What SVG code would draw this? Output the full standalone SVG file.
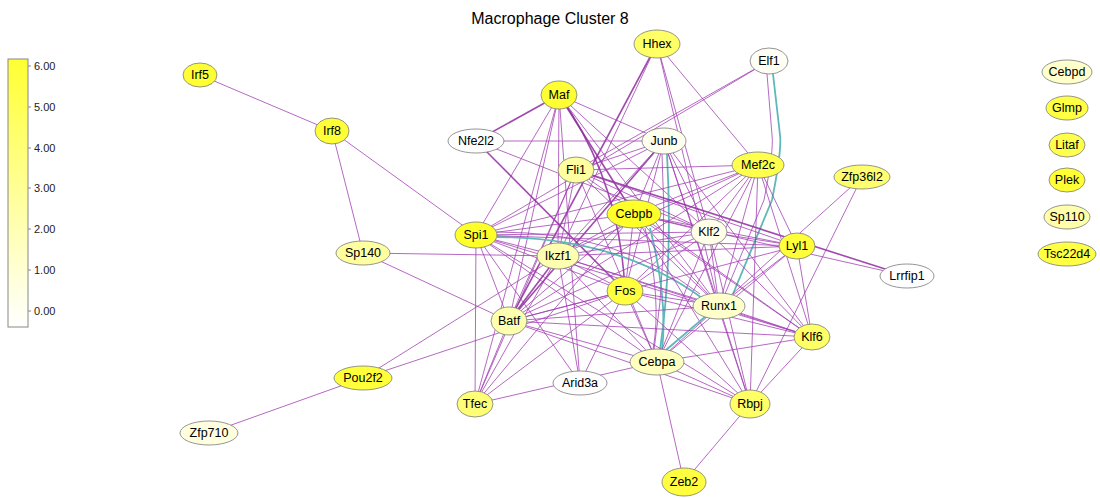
<svg xmlns="http://www.w3.org/2000/svg" width="1100" height="498" viewBox="0 0 1100 498">
<style>
.e{stroke:#a23db2;stroke-opacity:0.78;stroke-width:1;fill:none}
.t{stroke:#8e2c9e;stroke-opacity:0.85;stroke-width:1.6;fill:none}
.c{stroke:#5fb8b8;stroke-width:1.8;fill:none}
.n ellipse{stroke:#7a7a7a;stroke-width:0.8}
.n text{font-family:"Liberation Sans",Arial,sans-serif;font-size:12.5px;text-anchor:middle;dominant-baseline:central;fill:#000}
.lab{font-family:"Liberation Sans",Arial,sans-serif;font-size:11px;fill:#222}
</style>
<defs>
<linearGradient id="cb" x1="0" y1="0" x2="0" y2="1">
<stop offset="0" stop-color="#ffff33"/>
<stop offset="1" stop-color="#ffffff"/>
</linearGradient>
</defs>
<rect width="1100" height="498" fill="#fff"/>
<text x="550" y="24" font-family="Liberation Sans,Arial,sans-serif" font-size="16" text-anchor="middle" fill="#000">Macrophage Cluster 8</text>
<g id="colorbar">
<rect x="8" y="59" width="20" height="268" fill="url(#cb)" stroke="#888" stroke-width="1"/>
<g stroke="#888" stroke-width="1">
<line x1="28" y1="66" x2="31" y2="66"/><line x1="28" y1="107" x2="31" y2="107"/><line x1="28" y1="148" x2="31" y2="148"/><line x1="28" y1="188" x2="31" y2="188"/><line x1="28" y1="229" x2="31" y2="229"/><line x1="28" y1="270" x2="31" y2="270"/><line x1="28" y1="311" x2="31" y2="311"/>
</g>
<text class="lab" x="34" y="70">6.00</text>
<text class="lab" x="34" y="111">5.00</text>
<text class="lab" x="34" y="152">4.00</text>
<text class="lab" x="34" y="192">3.00</text>
<text class="lab" x="34" y="233">2.00</text>
<text class="lab" x="34" y="274">1.00</text>
<text class="lab" x="34" y="315">0.00</text>
</g>
<g id="connectors">
<line class="e" x1="200" y1="75" x2="332" y2="131"/>
<line class="e" x1="332" y1="131" x2="363" y2="253"/>
<line class="e" x1="332" y1="131" x2="476" y2="235"/>
<line class="e" x1="363" y1="253" x2="558" y2="256"/>
<line class="e" x1="363" y1="253" x2="509" y2="321"/>
<line class="e" x1="363" y1="378" x2="209" y2="433"/>
<line class="e" x1="363" y1="378" x2="558" y2="256"/>
<line class="e" x1="363" y1="378" x2="625" y2="291"/>
<line class="t" x1="657" y1="44" x2="509" y2="321"/>
<line class="e" x1="657" y1="44" x2="558" y2="256"/>
<line class="e" x1="657" y1="44" x2="709" y2="232"/>
<line class="e" x1="657" y1="44" x2="758" y2="165"/>
<line class="e" x1="657" y1="44" x2="719" y2="306"/>
<line class="e" x1="769" y1="61" x2="476" y2="235"/>
<line class="e" x1="769" y1="61" x2="576" y2="170"/>
<path class="e" d="M767 74 L772 135 Q774 150 764 200 L725 294"/>
<path class="c" d="M773 74 L780 135 Q782 150 772 200 L733 294"/>
<line class="t" x1="559" y1="95" x2="476" y2="141"/>
<line class="e" x1="559" y1="95" x2="664" y2="141"/>
<line class="e" x1="559" y1="95" x2="709" y2="232"/>
<line class="t" x1="559" y1="95" x2="634" y2="214"/>
<path class="t" d="M559 95 Q620 180 625 291"/>
<line class="e" x1="559" y1="95" x2="476" y2="235"/>
<line class="e" x1="559" y1="95" x2="509" y2="321"/>
<line class="e" x1="559" y1="95" x2="475" y2="404"/>
<line class="e" x1="559" y1="95" x2="558" y2="256"/>
<line class="e" x1="559" y1="95" x2="719" y2="306"/>
<line class="e" x1="559" y1="95" x2="580" y2="383"/>
<line class="e" x1="476" y1="141" x2="664" y2="141"/>
<line class="t" x1="476" y1="141" x2="625" y2="291"/>
<line class="e" x1="476" y1="141" x2="709" y2="232"/>
<line class="e" x1="664" y1="141" x2="576" y2="170"/>
<line class="e" x1="664" y1="141" x2="476" y2="235"/>
<line class="e" x1="664" y1="141" x2="558" y2="256"/>
<line class="t" x1="664" y1="141" x2="509" y2="321"/>
<line class="e" x1="664" y1="141" x2="634" y2="214"/>
<line class="e" x1="664" y1="141" x2="625" y2="291"/>
<path class="e" d="M662 154 Q668 260 654 350"/>
<path class="c" d="M667 154 Q673 260 660 350"/>
<line class="e" x1="664" y1="141" x2="709" y2="232"/>
<line class="e" x1="664" y1="141" x2="719" y2="306"/>
<line class="e" x1="664" y1="141" x2="750" y2="404"/>
<line class="e" x1="664" y1="141" x2="812" y2="337"/>
<line class="e" x1="576" y1="170" x2="758" y2="165"/>
<line class="t" x1="576" y1="170" x2="907" y2="276"/>
<line class="e" x1="576" y1="170" x2="797" y2="246"/>
<line class="e" x1="576" y1="170" x2="709" y2="232"/>
<line class="e" x1="576" y1="170" x2="812" y2="337"/>
<line class="e" x1="576" y1="170" x2="509" y2="321"/>
<line class="e" x1="576" y1="170" x2="475" y2="404"/>
<line class="e" x1="576" y1="170" x2="558" y2="256"/>
<line class="e" x1="576" y1="170" x2="719" y2="306"/>
<line class="e" x1="576" y1="170" x2="657" y2="362"/>
<line class="e" x1="758" y1="165" x2="709" y2="232"/>
<line class="e" x1="758" y1="165" x2="634" y2="214"/>
<line class="e" x1="758" y1="165" x2="625" y2="291"/>
<line class="e" x1="758" y1="165" x2="719" y2="306"/>
<line class="e" x1="758" y1="165" x2="812" y2="337"/>
<line class="e" x1="758" y1="165" x2="750" y2="404"/>
<line class="e" x1="758" y1="165" x2="797" y2="246"/>
<line class="e" x1="758" y1="165" x2="657" y2="362"/>
<line class="e" x1="758" y1="165" x2="476" y2="235"/>
<line class="e" x1="758" y1="165" x2="558" y2="256"/>
<line class="e" x1="758" y1="165" x2="509" y2="321"/>
<line class="e" x1="862" y1="177" x2="719" y2="306"/>
<line class="e" x1="862" y1="177" x2="750" y2="404"/>
<line class="e" x1="634" y1="214" x2="907" y2="276"/>
<line class="e" x1="476" y1="235" x2="634" y2="214"/>
<line class="e" x1="476" y1="235" x2="558" y2="256"/>
<line class="e" x1="476" y1="235" x2="625" y2="291"/>
<path class="e" d="M497 232 Q620 232 700 294"/>
<path class="c" d="M497 237 Q620 238 702 298"/>
<line class="e" x1="476" y1="235" x2="709" y2="232"/>
<line class="e" x1="476" y1="235" x2="797" y2="246"/>
<line class="e" x1="476" y1="235" x2="509" y2="321"/>
<line class="e" x1="476" y1="235" x2="475" y2="404"/>
<line class="e" x1="476" y1="235" x2="657" y2="362"/>
<line class="e" x1="476" y1="235" x2="580" y2="383"/>
<line class="e" x1="476" y1="235" x2="812" y2="337"/>
<line class="e" x1="476" y1="235" x2="750" y2="404"/>
<line class="e" x1="634" y1="214" x2="558" y2="256"/>
<line class="e" x1="634" y1="214" x2="509" y2="321"/>
<line class="e" x1="634" y1="214" x2="475" y2="404"/>
<line class="e" x1="634" y1="214" x2="625" y2="291"/>
<line class="e" x1="634" y1="214" x2="719" y2="306"/>
<path class="e" d="M645 228 Q662 300 653 350"/>
<path class="c" d="M650 228 Q668 300 662 350"/>
<line class="e" x1="634" y1="214" x2="812" y2="337"/>
<line class="e" x1="634" y1="214" x2="750" y2="404"/>
<line class="e" x1="634" y1="214" x2="709" y2="232"/>
<line class="e" x1="634" y1="214" x2="797" y2="246"/>
<line class="e" x1="709" y1="232" x2="719" y2="306"/>
<line class="e" x1="709" y1="232" x2="812" y2="337"/>
<line class="e" x1="709" y1="232" x2="657" y2="362"/>
<line class="e" x1="709" y1="232" x2="750" y2="404"/>
<line class="e" x1="709" y1="232" x2="509" y2="321"/>
<line class="e" x1="709" y1="232" x2="625" y2="291"/>
<line class="e" x1="709" y1="232" x2="558" y2="256"/>
<line class="e" x1="709" y1="232" x2="797" y2="246"/>
<line class="e" x1="797" y1="246" x2="719" y2="306"/>
<line class="e" x1="797" y1="246" x2="812" y2="337"/>
<line class="e" x1="797" y1="246" x2="657" y2="362"/>
<line class="e" x1="797" y1="246" x2="558" y2="256"/>
<line class="e" x1="797" y1="246" x2="509" y2="321"/>
<line class="e" x1="558" y1="256" x2="719" y2="306"/>
<line class="e" x1="558" y1="256" x2="625" y2="291"/>
<line class="e" x1="558" y1="256" x2="657" y2="362"/>
<line class="t" x1="558" y1="256" x2="509" y2="321"/>
<line class="e" x1="558" y1="256" x2="475" y2="404"/>
<line class="e" x1="558" y1="256" x2="812" y2="337"/>
<line class="e" x1="558" y1="256" x2="580" y2="383"/>
<line class="e" x1="625" y1="291" x2="719" y2="306"/>
<line class="e" x1="625" y1="291" x2="657" y2="362"/>
<line class="e" x1="625" y1="291" x2="509" y2="321"/>
<line class="e" x1="625" y1="291" x2="812" y2="337"/>
<line class="e" x1="625" y1="291" x2="750" y2="404"/>
<line class="e" x1="625" y1="291" x2="475" y2="404"/>
<line class="e" x1="625" y1="291" x2="580" y2="383"/>
<line class="e" x1="719" y1="306" x2="657" y2="362"/>
<line class="c" x1="666" y1="350" x2="706" y2="316"/>
<line class="e" x1="719" y1="306" x2="812" y2="337"/>
<line class="e" x1="719" y1="306" x2="750" y2="404"/>
<line class="e" x1="719" y1="306" x2="509" y2="321"/>
<line class="e" x1="509" y1="321" x2="657" y2="362"/>
<line class="e" x1="509" y1="321" x2="475" y2="404"/>
<line class="e" x1="509" y1="321" x2="812" y2="337"/>
<line class="e" x1="509" y1="321" x2="750" y2="404"/>
<line class="e" x1="657" y1="362" x2="684" y2="482"/>
<line class="e" x1="657" y1="362" x2="750" y2="404"/>
<line class="e" x1="657" y1="362" x2="812" y2="337"/>
<line class="e" x1="657" y1="362" x2="475" y2="404"/>
<line class="e" x1="750" y1="404" x2="684" y2="482"/>
<line class="e" x1="750" y1="404" x2="812" y2="337"/>
</g>
<g id="node-Irf5" class="n"><ellipse cx="200" cy="75" rx="17" ry="12" fill="#ffff33"/><text x="200" y="75">Irf5</text></g>
<g id="node-Irf8" class="n"><ellipse cx="332" cy="131" rx="17" ry="13" fill="#ffff38"/><text x="332" y="131">Irf8</text></g>
<g id="node-Sp140" class="n"><ellipse cx="363" cy="253" rx="27" ry="12" fill="#ffffa0"/><text x="363" y="253">Sp140</text></g>
<g id="node-Pou2f2" class="n"><ellipse cx="363" cy="378" rx="29" ry="12" fill="#ffff3a"/><text x="363" y="378">Pou2f2</text></g>
<g id="node-Zfp710" class="n"><ellipse cx="209" cy="433" rx="29" ry="12" fill="#ffffe0"/><text x="209" y="433">Zfp710</text></g>
<g id="node-Hhex" class="n"><ellipse cx="657" cy="44" rx="23" ry="14" fill="#ffff66"/><text x="657" y="44">Hhex</text></g>
<g id="node-Elf1" class="n"><ellipse cx="769" cy="61" rx="19" ry="13" fill="#fffff5"/><text x="769" y="61">Elf1</text></g>
<g id="node-Maf" class="n"><ellipse cx="559" cy="95" rx="18" ry="14" fill="#ffff33"/><text x="559" y="95">Maf</text></g>
<g id="node-Nfe2l2" class="n"><ellipse cx="476" cy="141" rx="28" ry="12" fill="#ffffff"/><text x="476" y="141">Nfe2l2</text></g>
<g id="node-Junb" class="n"><ellipse cx="664" cy="141" rx="22" ry="13" fill="#fffff0"/><text x="664" y="141">Junb</text></g>
<g id="node-Fli1" class="n"><ellipse cx="576" cy="170" rx="18" ry="13" fill="#ffffa0"/><text x="576" y="170">Fli1</text></g>
<g id="node-Mef2c" class="n"><ellipse cx="758" cy="165" rx="26" ry="13" fill="#ffff4d"/><text x="758" y="165">Mef2c</text></g>
<g id="node-Zfp36l2" class="n"><ellipse cx="862" cy="177" rx="28" ry="12" fill="#ffff6e"/><text x="862" y="177">Zfp36l2</text></g>
<g id="node-Cebpb" class="n"><ellipse cx="634" cy="214" rx="27" ry="14" fill="#ffff2a"/><text x="634" y="214">Cebpb</text></g>
<g id="node-Klf2" class="n"><ellipse cx="709" cy="232" rx="18" ry="13" fill="#fffee8"/><text x="709" y="232">Klf2</text></g>
<g id="node-Spi1" class="n"><ellipse cx="476" cy="235" rx="21" ry="13" fill="#ffff2a"/><text x="476" y="235">Spi1</text></g>
<g id="node-Lyl1" class="n"><ellipse cx="797" cy="246" rx="18" ry="13" fill="#ffff3a"/><text x="797" y="246">Lyl1</text></g>
<g id="node-Ikzf1" class="n"><ellipse cx="558" cy="256" rx="21" ry="13" fill="#ffffb0"/><text x="558" y="256">Ikzf1</text></g>
<g id="node-Lrrfip1" class="n"><ellipse cx="907" cy="276" rx="27" ry="12" fill="#ffffff"/><text x="907" y="276">Lrrfip1</text></g>
<g id="node-Fos" class="n"><ellipse cx="625" cy="291" rx="18" ry="14" fill="#ffff40"/><text x="625" y="291">Fos</text></g>
<g id="node-Runx1" class="n"><ellipse cx="719" cy="306" rx="26" ry="13" fill="#ffffcc"/><text x="719" y="306">Runx1</text></g>
<g id="node-Batf" class="n"><ellipse cx="509" cy="321" rx="18" ry="14" fill="#ffffb0"/><text x="509" y="321">Batf</text></g>
<g id="node-Klf6" class="n"><ellipse cx="812" cy="337" rx="18" ry="13" fill="#ffff66"/><text x="812" y="337">Klf6</text></g>
<g id="node-Cebpa" class="n"><ellipse cx="657" cy="362" rx="27" ry="13" fill="#ffffc0"/><text x="657" y="362">Cebpa</text></g>
<g id="node-Arid3a" class="n"><ellipse cx="580" cy="383" rx="27" ry="12" fill="#ffffff"/><text x="580" y="383">Arid3a</text></g>
<g id="node-Tfec" class="n"><ellipse cx="475" cy="404" rx="18" ry="13" fill="#ffff77"/><text x="475" y="404">Tfec</text></g>
<g id="node-Rbpj" class="n"><ellipse cx="750" cy="404" rx="20" ry="14" fill="#ffff66"/><text x="750" y="404">Rbpj</text></g>
<g id="node-Zeb2" class="n"><ellipse cx="684" cy="482" rx="22" ry="14" fill="#ffff40"/><text x="684" y="482">Zeb2</text></g>
<g id="node-Cebpd" class="n"><ellipse cx="1067" cy="72" rx="25" ry="12" fill="#ffffcc"/><text x="1067" y="72">Cebpd</text></g>
<g id="node-Glmp" class="n"><ellipse cx="1067" cy="108" rx="21" ry="12" fill="#ffff44"/><text x="1067" y="108">Glmp</text></g>
<g id="node-Litaf" class="n"><ellipse cx="1067" cy="145" rx="18" ry="12" fill="#ffff4d"/><text x="1067" y="145">Litaf</text></g>
<g id="node-Plek" class="n"><ellipse cx="1067" cy="180" rx="18" ry="12" fill="#ffff33"/><text x="1067" y="180">Plek</text></g>
<g id="node-Sp110" class="n"><ellipse cx="1067" cy="217" rx="23" ry="12" fill="#ffffaa"/><text x="1067" y="217">Sp110</text></g>
<g id="node-Tsc22d4" class="n"><ellipse cx="1067" cy="254" rx="29" ry="12" fill="#ffff44"/><text x="1067" y="254">Tsc22d4</text></g>
</svg>
